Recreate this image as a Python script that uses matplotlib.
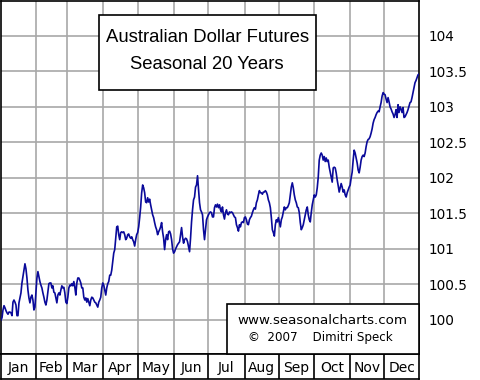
import numpy as np
import matplotlib
matplotlib.use("Agg")
import matplotlib.pyplot as plt
from matplotlib.patches import Rectangle

# DATA
months = ["Jan", "Feb", "Mar", "Apr", "May", "Jun", "Jul", "Aug", "Sep", "Oct", "Nov", "Dec"]
month_days = [21, 19, 22, 21, 22, 21, 22, 21, 21, 22, 21, 21]   # trading days per month
y_ticks = [100, 100.5, 101, 101.5, 102, 102.5, 103, 103.5, 104]
y_labels = ["100", "100.5", "101", "101.5", "102", "102.5", "103", "103.5", "104"]

# seasonal index (Jan .. early Apr)
q1 = [100.00, 100.03, 100.14, 100.20, 100.17, 100.13, 100.10, 100.08, 100.11, 100.11,
      100.10, 100.06, 100.25, 100.28, 100.25, 100.21, 100.06, 100.06, 100.24, 100.31,
      100.38, 100.52, 100.61, 100.70, 100.79, 100.72, 100.59, 100.42, 100.31, 100.24,
      100.32, 100.35, 100.28, 100.14, 100.18, 100.39, 100.59, 100.68, 100.61, 100.54,
      100.49, 100.45, 100.38, 100.32, 100.25, 100.21, 100.28, 100.39, 100.51, 100.52,
      100.52, 100.45, 100.48, 100.39, 100.38, 100.31, 100.24, 100.35, 100.38, 100.35,
      100.42, 100.48, 100.45, 100.46, 100.38, 100.25, 100.23, 100.32, 100.45, 100.49,
      100.48, 100.51, 100.48, 100.54, 100.46, 100.35, 100.52, 100.59, 100.59, 100.56,
      100.52, 100.45, 100.45, 100.32, 100.28, 100.31, 100.25, 100.30, 100.25, 100.20,
      100.28, 100.32, 100.31, 100.28, 100.25, 100.24, 100.21, 100.18, 100.25, 100.28,
      100.32, 100.45, 100.52, 100.49, 100.42, 100.35, 100.45, 100.51, 100.54, 100.63]
# Apr .. Jun
q2 = [100.63, 100.70, 100.82, 100.94, 100.99, 101.15, 101.31, 101.32, 101.20, 101.13,
      101.23, 101.24, 101.23, 101.24, 101.20, 101.13, 101.15, 101.20, 101.21, 101.17,
      101.15, 101.17, 101.13, 101.10, 101.04, 101.13, 101.20, 101.23, 101.31, 101.44,
      101.59, 101.79, 101.90, 101.86, 101.79, 101.66, 101.65, 101.72, 101.66, 101.70,
      101.62, 101.55, 101.48, 101.44, 101.37, 101.31, 101.27, 101.20, 101.24, 101.27,
      101.31, 101.37, 101.24, 101.15, 100.99, 101.13, 101.20, 101.13, 101.24, 101.25,
      101.21, 101.13, 101.00, 100.94, 100.96, 101.00, 101.03, 101.06, 101.08, 101.10,
      101.20, 101.30, 101.17, 101.08, 101.13, 101.15, 101.14, 101.10, 101.03, 100.96,
      101.15, 101.38, 101.55, 101.69, 101.73, 101.87, 101.90, 102.03, 101.83, 101.65]
# Jul .. Sep
q3 = [101.55, 101.52, 101.48, 101.27, 101.13, 101.27, 101.41, 101.45, 101.48, 101.51,
      101.52, 101.51, 101.45, 101.45, 101.58, 101.62, 101.59, 101.63, 101.58, 101.62,
      101.55, 101.52, 101.59, 101.48, 101.42, 101.51, 101.55, 101.49, 101.48, 101.52,
      101.51, 101.52, 101.51, 101.48, 101.45, 101.44, 101.34, 101.30, 101.25, 101.34,
      101.31, 101.37, 101.38, 101.37, 101.44, 101.45, 101.41, 101.35, 101.34, 101.41,
      101.44, 101.46, 101.51, 101.55, 101.58, 101.56, 101.65, 101.69, 101.76, 101.82,
      101.79, 101.79, 101.77, 101.80, 101.80, 101.82, 101.80, 101.76, 101.69, 101.65,
      101.58, 101.44, 101.27, 101.23, 101.18, 101.34, 101.41, 101.38, 101.44, 101.38,
      101.31, 101.41, 101.45, 101.52, 101.59, 101.55, 101.58, 101.58, 101.61, 101.65,
      101.76, 101.87, 101.93, 101.86, 101.76, 101.69, 101.65, 101.59, 101.58, 101.51,
      101.37, 101.27, 101.30, 101.34, 101.41, 101.48, 101.55, 101.59, 101.48, 101.41,
      101.38, 101.51]
# Oct .. Dec
q4 = [101.62, 101.69, 101.76, 101.73, 101.76, 101.86, 102.01, 102.25, 102.32, 102.35,
      102.32, 102.25, 102.30, 102.23, 102.28, 102.23, 102.25, 102.15, 102.08, 102.01,
      101.94, 102.14, 102.15, 102.14, 102.07, 101.97, 101.89, 101.80, 101.86, 101.92,
      101.87, 101.80, 101.83, 101.76, 101.73, 101.79, 101.83, 101.87, 101.90, 102.00,
      102.08, 102.25, 102.39, 102.35, 102.28, 102.21, 102.11, 102.07, 102.15, 102.25,
      102.30, 102.32, 102.30, 102.35, 102.44, 102.51, 102.54, 102.55, 102.58, 102.63,
      102.69, 102.77, 102.82, 102.85, 102.89, 102.92, 102.94, 102.93, 103.00, 103.06,
      103.15, 103.20, 103.18, 103.17, 103.11, 103.06, 103.13, 103.07, 103.00, 102.97,
      102.93, 102.90, 102.85, 102.89, 102.96, 102.85, 103.03, 102.92, 103.00, 102.97,
      102.92, 102.99, 102.85, 102.86, 102.89, 102.92, 102.96, 103.01, 103.06, 103.07,
      103.13, 103.20, 103.27, 103.34, 103.37, 103.41, 103.45, 103.46]

season = np.array(q1 + q2 + q3 + q4)
n_days = sum(month_days)
x = np.linspace(0, n_days, len(season))
edges = np.cumsum([0] + month_days)

W, H = 480, 380
fig = plt.figure(figsize=(W / 100, H / 100), dpi=100)
fig.patch.set_facecolor("white")

# main plot area
ax = fig.add_axes([1 / W, 26 / H, 418 / W, 353 / H])
ax.set_xlim(0, n_days)
ax.set_ylim(99.52, 104.49)
for v in y_ticks:
    ax.axhline(v, color="#a8a8a8", lw=1.2, zorder=1)
for e in edges[1:-1]:
    ax.axvline(e, color="#a8a8a8", lw=1.2, zorder=1)
ax.plot(x, season, color="#0a0a9a", lw=1.2, zorder=3)

ax.set_xticks([])
ax.yaxis.tick_right()
ax.set_yticks(y_ticks)
ax.set_yticklabels(y_labels, fontsize=9.8, family="DejaVu Sans")
ax.tick_params(axis="y", length=0, pad=7.2)
for s in ax.spines.values():
    s.set_color("black")
    s.set_linewidth(1.2)

# month band
band = fig.add_axes([1 / W, 1 / H, 418 / W, 25 / H])
band.set_xlim(0, n_days)
band.set_ylim(0, 1)
band.set_xticks([])
band.set_yticks([])
for e in edges[1:-1]:
    band.axvline(e, color="black", lw=1.2)
for i, m in enumerate(months):
    band.text((edges[i] + edges[i + 1]) / 2, 0.45, m, ha="center", va="center",
              fontsize=10, family="DejaVu Sans")
for s in band.spines.values():
    s.set_color("black")
    s.set_linewidth(1.2)

# title box
fig.add_artist(Rectangle((99 / W, 1 - 90 / H), 217 / W, 75 / H, transform=fig.transFigure,
                         facecolor="white", edgecolor="black", lw=1.2, zorder=5))
fig.text(208 / W, 1 - 41.7 / H, "Australian Dollar Futures", ha="center", va="baseline",
         fontsize=13.3, family="Liberation Sans", zorder=6)
fig.text(207 / W, 1 - 69 / H, "Seasonal 20 Years", ha="center", va="baseline",
         fontsize=13.3, family="Liberation Sans", zorder=6)

# credit box
fig.add_artist(Rectangle((227 / W, 26 / H), 192 / W, 50 / H, transform=fig.transFigure,
                         facecolor="white", edgecolor="black", lw=1.2, zorder=5))
fig.text(322 / W, 1 - 320 / H, "www.seasonalcharts.com", ha="center", va="center",
         fontsize=9.6, family="DejaVu Sans", zorder=6)
fig.text(320 / W, 1 - 338 / H, "©  2007    Dimitri Speck", ha="center", va="center",
         fontsize=8.6, family="DejaVu Sans", zorder=6)

fig.savefig("out.png", dpi=100)
